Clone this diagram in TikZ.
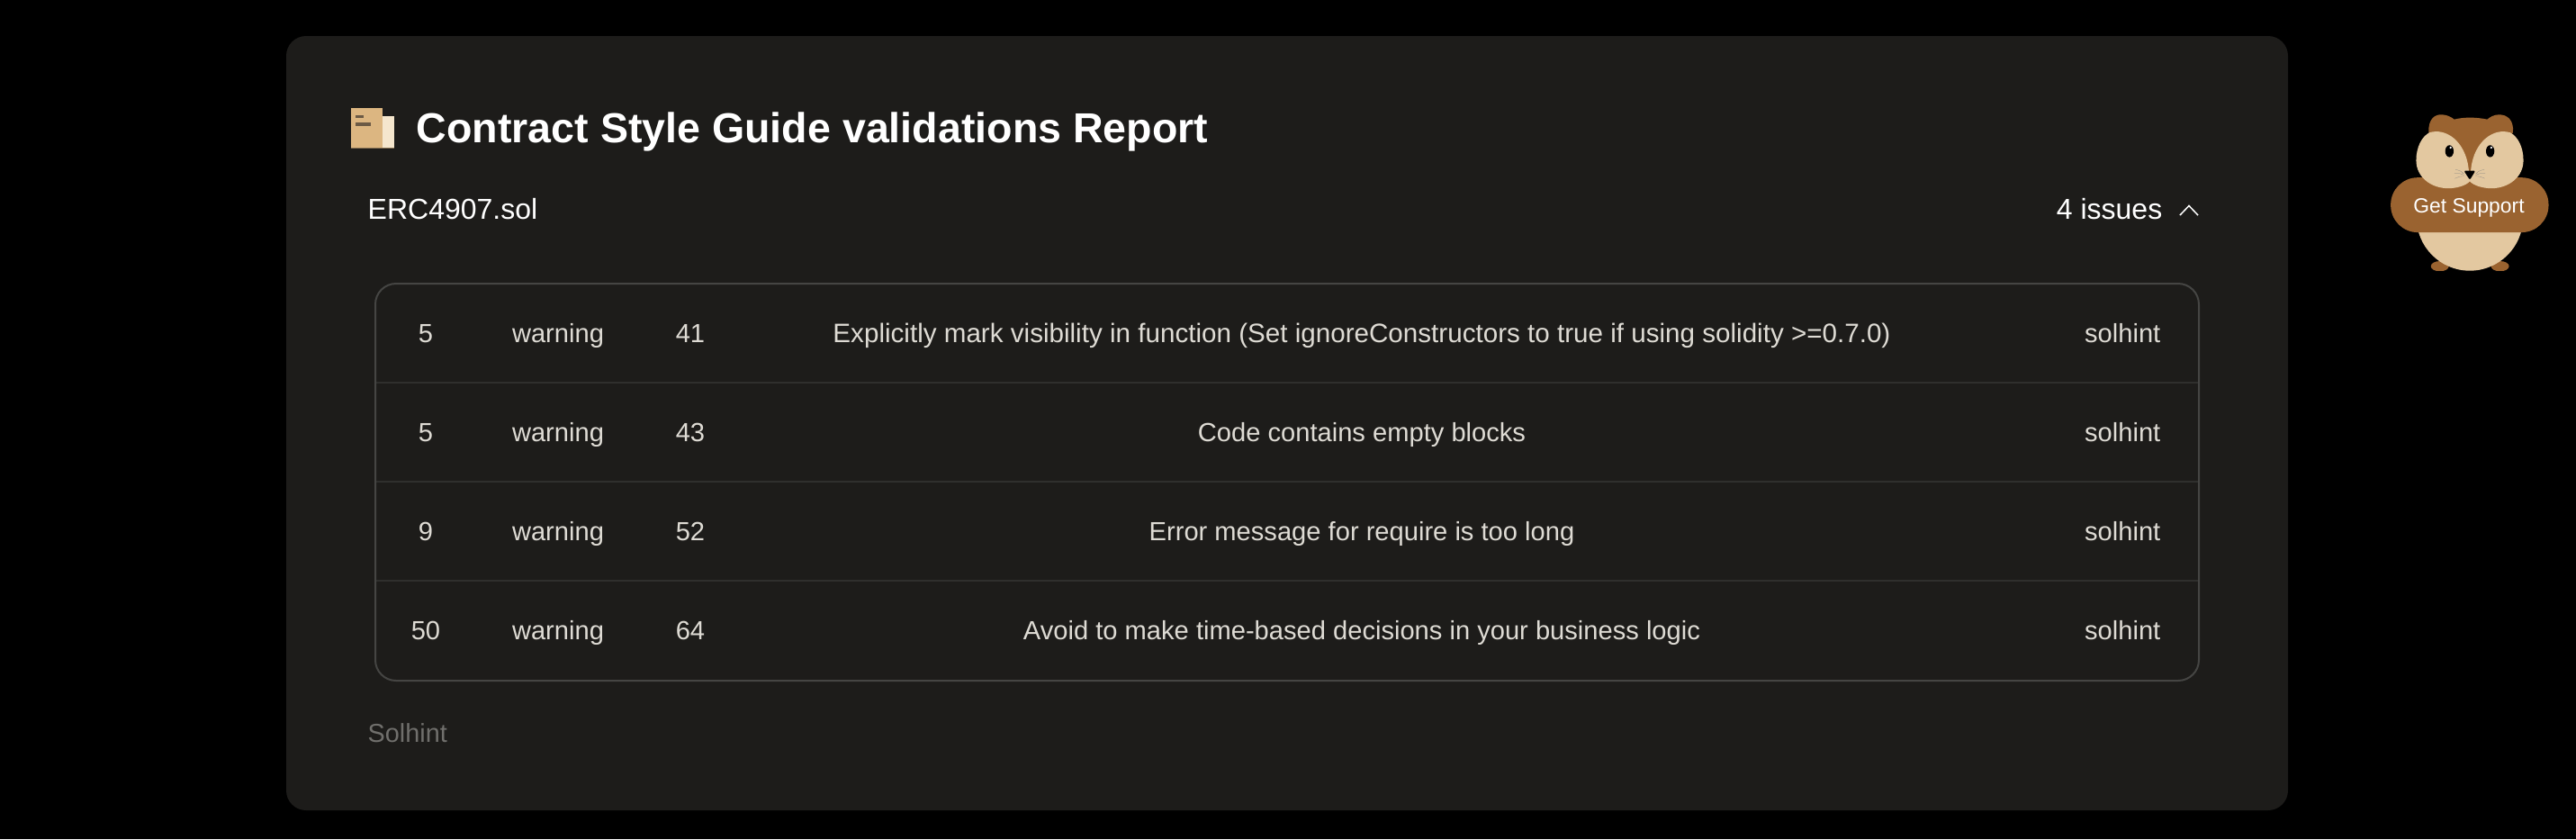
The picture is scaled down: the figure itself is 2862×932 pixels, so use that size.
\documentclass[tikz,border=0pt]{standalone}
\usepackage{fontspec}
\setmainfont{Liberation Sans}
\definecolor{pagebg}{HTML}{000000}
\definecolor{panelbg}{HTML}{1D1C1A}
\definecolor{tableline}{HTML}{454543}
\definecolor{rowline}{HTML}{2F2F2D}
\definecolor{celltext}{HTML}{DEDBD4}
\definecolor{mutedtext}{HTML}{706F6C}
\definecolor{tan}{HTML}{E3C8A0}
\definecolor{furbrown}{HTML}{9A6330}
\definecolor{bookdark}{HTML}{DCB681}
\definecolor{booklight}{HTML}{F5E6CD}
\definecolor{bookmark}{HTML}{6B5A45}
\tikzset{
	cell/.style = {inner sep=0pt, text=celltext, font=\fontsize{8.28}{10}\selectfont},
	head/.style = {inner sep=0pt, text=white, font=\fontsize{9.1}{11}\selectfont},
	title/.style = {inner sep=0pt, text=white, font=\fontsize{13.24}{16}\selectfont\bfseries},
}
\begin{document}
\begin{tikzpicture}[x=.01cm, y=-.01cm]
		\useasboundingbox [fill=pagebg] (0,0) rectangle (2862,932);
		\fill [panelbg, rounded corners=.22cm] (318,40) rectangle (2542,900);
		
		% report icon
		\fill [booklight] (425,129) rectangle (438,165);
		\fill [bookdark] (390,120) rectangle (425,165);
		\fill [bookmark] (395,128) rectangle (403.5,131);
		\fill [bookmark] (395,136) rectangle (411.5,140);
		\fill [bookmark!70!bookdark] (390,164) rectangle (438,165);
		
		\node [title, anchor=base west] (reporttitle) at (462,158) {Contract Style Guide validations Report};
		\node [head, anchor=base west] (filename) at (408,243) {ERC4907.sol};
		\node [head, anchor=base east] (issuecount) at (2403,243) {4 issues};
		\draw [white, line width=.015cm] (2422,239) -- (2432,228.5) -- (2442,239);
		
		% table
		\draw [rowline, line width=.015cm] (417,425) -- (2443,425);
		\draw [rowline, line width=.015cm] (417,535) -- (2443,535);
		\draw [rowline, line width=.015cm] (417,645) -- (2443,645);
		\draw [tableline, line width=.02cm, rounded corners=.23cm] (417,315) rectangle (2443,756);
		
		\node [cell, anchor=base] (line1) at (473,380) {5};
		\node [cell, anchor=base] (sev1) at (620,380) {warning};
		\node [cell, anchor=base] (col1) at (767,380) {41};
		\node [cell, anchor=base, font=\fontsize{8.42}{10}\selectfont] (msg1) at (1513,380) {Explicitly mark visibility in function (Set ignoreConstructors to true if using solidity >=0.7.0)};
		\node [cell, anchor=base east] (tool1) at (2401,380) {solhint};
		
		\node [cell, anchor=base] (line2) at (473,490) {5};
		\node [cell, anchor=base] (sev2) at (620,490) {warning};
		\node [cell, anchor=base] (col2) at (767,490) {43};
		\node [cell, anchor=base] (msg2) at (1513,490) {Code contains empty blocks};
		\node [cell, anchor=base east] (tool2) at (2401,490) {solhint};
		
		\node [cell, anchor=base] (line3) at (473,600.5) {9};
		\node [cell, anchor=base] (sev3) at (620,600.5) {warning};
		\node [cell, anchor=base] (col3) at (767,600.5) {52};
		\node [cell, anchor=base] (msg3) at (1513,600.5) {Error message for require is too long};
		\node [cell, anchor=base east] (tool3) at (2401,600.5) {solhint};
		
		\node [cell, anchor=base] (line4) at (473,710.5) {50};
		\node [cell, anchor=base] (sev4) at (620,710.5) {warning};
		\node [cell, anchor=base] (col4) at (767,710.5) {64};
		\node [cell, anchor=base] (msg4) at (1513,710.5) {Avoid to make time-based decisions in your business logic};
		\node [cell, anchor=base east] (tool4) at (2401,710.5) {solhint};
		
		\node [cell, text=mutedtext, anchor=base west, font=\fontsize{8.2}{10}\selectfont] (source) at (408,824) {Solhint};
		
		% mascot, drawn from its middle line
		\begin{scope} [shift={(2744,100)}, x=.00333cm, y=-.00333cm]
		\fill [furbrown] (-100,588) ellipse (30 and 17);
		\fill [furbrown] (101,588) ellipse (30 and 17);
		\fill [tan] (0,425) circle (178);
		\fill [pagebg] (-170,604) rectangle (170,625);
		\fill [furbrown, rounded corners=.3cm] (-264,292) rectangle (263,475);
		\fill [furbrown] (-137,142) .. controls (-140,95) and (-115,80) .. (-92,82) .. controls (-75,83) and (-62,90) .. (-52,98) .. controls (-20,90) and (20,90) .. (58,98) .. controls (68,90) and (80,82) .. (98,82) .. controls (125,82) and (148,100) .. (144,142) -- (0,300) -- cycle;
		\fill [tan] (-179,235) .. controls (-179,190) and (-160,155) .. (-135,142) .. controls (-80,125) and (-15,170) .. (-4,262) -- (0,305) .. controls (-15,320) and (-45,328) .. (-72,328) .. controls (-130,328) and (-179,290) .. (-179,235) -- cycle;
		\fill [tan] (179,235) .. controls (179,190) and (160,155) .. (135,142) .. controls (80,125) and (15,170) .. (4,262) -- (0,305) .. controls (15,320) and (45,328) .. (72,328) .. controls (130,328) and (179,290) .. (179,235) -- cycle;
		\fill [black] (-68,204) ellipse (14 and 20);
		\fill [black] (68,204) ellipse (14 and 20);
		\fill [white] (-64,192) circle (4);
		\fill [white] (72,192) circle (4);
		\fill [black, rounded corners=.02cm] (-20,269) -- (19,269) -- (0,300) -- cycle;
		\draw [gray, line width=.002cm] (-20,280) .. controls (-30,270) .. (-48,265);
		\draw [gray, line width=.002cm] (-20,284) .. controls (-32,278) .. (-52,279);
		\draw [gray, line width=.002cm] (-18,288) .. controls (-32,288) .. (-50,295);
		\draw [gray, line width=.002cm] (20,280) .. controls (30,270) .. (48,265);
		\draw [gray, line width=.002cm] (20,284) .. controls (32,278) .. (52,279);
		\draw [gray, line width=.002cm] (18,288) .. controls (32,288) .. (50,295);
		\end{scope}
		\node [inner sep=0pt, text=white, anchor=base, font=\fontsize{6.5}{8}\selectfont] (support) at (2743,236) {Get Support};
		
		\end{tikzpicture}
\end{document}
